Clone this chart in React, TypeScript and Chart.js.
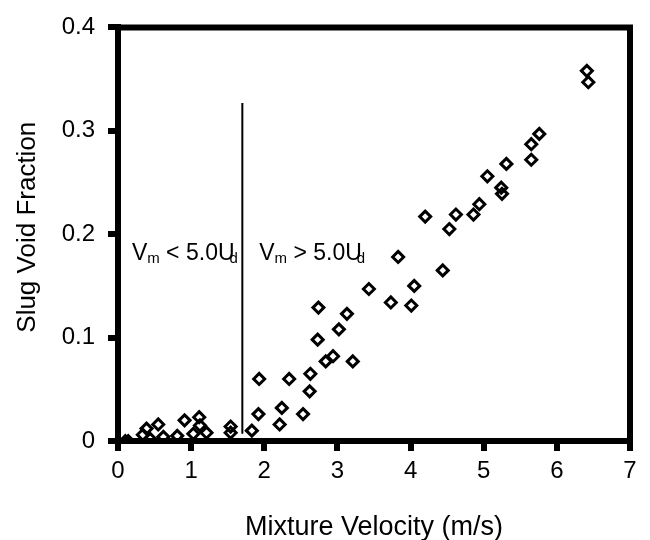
import { useEffect, useRef } from 'react';
import { Chart, registerables } from 'chart.js';

Chart.register(...registerables);

const velocity = [
  0.10, 0.14, 0.34, 0.39, 0.44, 0.55, 0.62, 0.81, 0.91, 1.03,
  1.11, 1.12, 1.21, 1.54, 1.54, 1.83, 1.92, 1.93, 2.21, 2.24,
  2.34, 2.53, 2.62, 2.63, 2.73, 2.74, 2.84, 2.94, 3.02, 3.13,
  3.21, 3.43, 3.73, 3.83, 4.01, 4.05, 4.20, 4.44, 4.53, 4.62,
  4.86, 4.94, 5.05, 5.24, 5.25, 5.31, 5.65, 5.65, 5.76, 6.41,
  6.43,
];
const voidFraction = [
  0.000, 0.000, 0.006, 0.012, 0.002, 0.016, 0.004, 0.005, 0.020, 0.007,
  0.023, 0.015, 0.008, 0.014, 0.008, 0.010, 0.026, 0.060, 0.016, 0.032,
  0.060, 0.026, 0.048, 0.065, 0.098, 0.129, 0.077, 0.082, 0.108, 0.123,
  0.077, 0.147, 0.134, 0.178, 0.131, 0.150, 0.217, 0.165, 0.205, 0.219,
  0.219, 0.229, 0.256, 0.245, 0.239, 0.268, 0.272, 0.287, 0.297, 0.358,
  0.347,
];
const xTickLabels = ['0', '1', '2', '3', '4', '5', '6', '7'];
const yTickLabels = ['0', '0.1', '0.2', '0.3', '0.4'];
const xTitle = 'Mixture Velocity (m/s)';
const yTitle = 'Slug Void Fraction';

const dividerVelocity = [1.7, 1.7];
const dividerFraction = [0.007, 0.327];

const regionMain = ['V', 'V'];
const regionSub = ['m', 'm'];
const regionRest = [' < 5.0U', ' > 5.0U'];
const regionSub2 = ['d', 'd'];
const regionX = [0.19, 1.93];
const regionY = [0.175, 0.175];

const FONT = '"Liberation Sans", Arial, Helvetica, sans-serif';

const framePlugin = {
  id: 'frame',
  afterDraw(chart: any) {
    const { ctx, chartArea } = chart;
    const { left, right, top, bottom } = chartArea;
    ctx.save();
    ctx.strokeStyle = '#000';
    ctx.lineWidth = 6;
    ctx.beginPath();
    ctx.moveTo(left, top);
    ctx.lineTo(right + 3, top);
    ctx.moveTo(right, top);
    ctx.lineTo(right, bottom);
    ctx.stroke();

    const xs = chart.scales.x;
    const ys = chart.scales.y;
    ctx.fillStyle = '#000';
    ctx.textBaseline = 'alphabetic';
    ctx.textAlign = 'left';
    for (let i = 0; i < regionMain.length; i++) {
      let x = xs.getPixelForValue(regionX[i]);
      const y = ys.getPixelForValue(regionY[i]);
      ctx.font = `23px ${FONT}`;
      ctx.fillText(regionMain[i], x, y);
      x += ctx.measureText(regionMain[i]).width;
      ctx.font = `15px ${FONT}`;
      ctx.fillText(regionSub[i], x, y + 3);
      x += ctx.measureText(regionSub[i]).width;
      ctx.font = `23px ${FONT}`;
      ctx.fillText(regionRest[i], x, y);
      x += ctx.measureText(regionRest[i]).width;
      ctx.font = `15px ${FONT}`;
      ctx.fillText(regionSub2[i], x - 5, y + 3);
    }

    // axis titles
    ctx.font = `27px ${FONT}`;
    ctx.textAlign = 'center';
    ctx.textBaseline = 'middle';
    ctx.fillText(xTitle, (left + right) / 2, 528);
    ctx.save();
    ctx.translate(28, (top + bottom) / 2 - 7);
    ctx.rotate(-Math.PI / 2);
    ctx.font = `26px ${FONT}`;
    ctx.fillText(yTitle, 0, 0);
    ctx.restore();
    ctx.restore();
  },
};

export default function App() {
  const canvasRef = useRef<HTMLCanvasElement | null>(null);

  useEffect(() => {
    if (!canvasRef.current) return;
    Chart.defaults.font.family = FONT;
    Chart.defaults.color = '#000';
    const points = velocity.map((v, i) => ({ x: v, y: voidFraction[i] }));
    const divider = dividerVelocity.map((v, i) => ({ x: v, y: dividerFraction[i] }));
    const chart = new Chart(canvasRef.current, {
      type: 'scatter',
      data: {
        datasets: [
          {
            type: 'scatter',
            data: points,
            pointStyle: 'rectRot',
            pointRadius: 5.5,
            borderWidth: 3,
            borderColor: '#000',
            backgroundColor: 'rgba(255,255,255,0)',
          },
          {
            type: 'line',
            data: divider,
            borderColor: '#000',
            borderWidth: 2,
            pointRadius: 0,
            fill: false,
          },
        ],
      } as any,
      options: {
        animation: false,
        responsive: false,
        layout: { padding: { top: 22, right: 20, left: 0, bottom: 0 } },
        plugins: { legend: { display: false }, tooltip: { enabled: false } },
        scales: {
          x: {
            type: 'linear',
            min: 0,
            max: 7,
            ticks: {
              stepSize: 1,
              padding: 6,
              font: { size: 24 },
              color: '#000',
              callback: (_v: any, i: number) => xTickLabels[i],
            },
            grid: { drawOnChartArea: false, tickLength: 10, lineWidth: 6, color: '#000' },
            border: { display: true, width: 6, color: '#000' },
            title: { display: false },
            afterFit: (s: any) => {
              s.height = 99;
            },
          },
          y: {
            type: 'linear',
            min: 0,
            max: 0.4,
            ticks: {
              stepSize: 0.1,
              padding: 13,
              font: { size: 24 },
              color: '#000',
              callback: (_v: any, i: number) => yTickLabels[i],
            },
            grid: { drawOnChartArea: false, tickLength: 10, lineWidth: 6, color: '#000' },
            border: { display: true, width: 6, color: '#000' },
            title: { display: false },
            afterFit: (s: any) => {
              s.width = 118;
            },
          },
        },
      } as any,
      plugins: [framePlugin],
    });
    return () => chart.destroy();
  }, []);

  return (
    <div style={{ position: 'absolute', left: 0, top: 0, width: 650, height: 540, background: '#fff' }}>
      <canvas ref={canvasRef} width={650} height={540} style={{ width: 650, height: 540 }} />
    </div>
  );
}
